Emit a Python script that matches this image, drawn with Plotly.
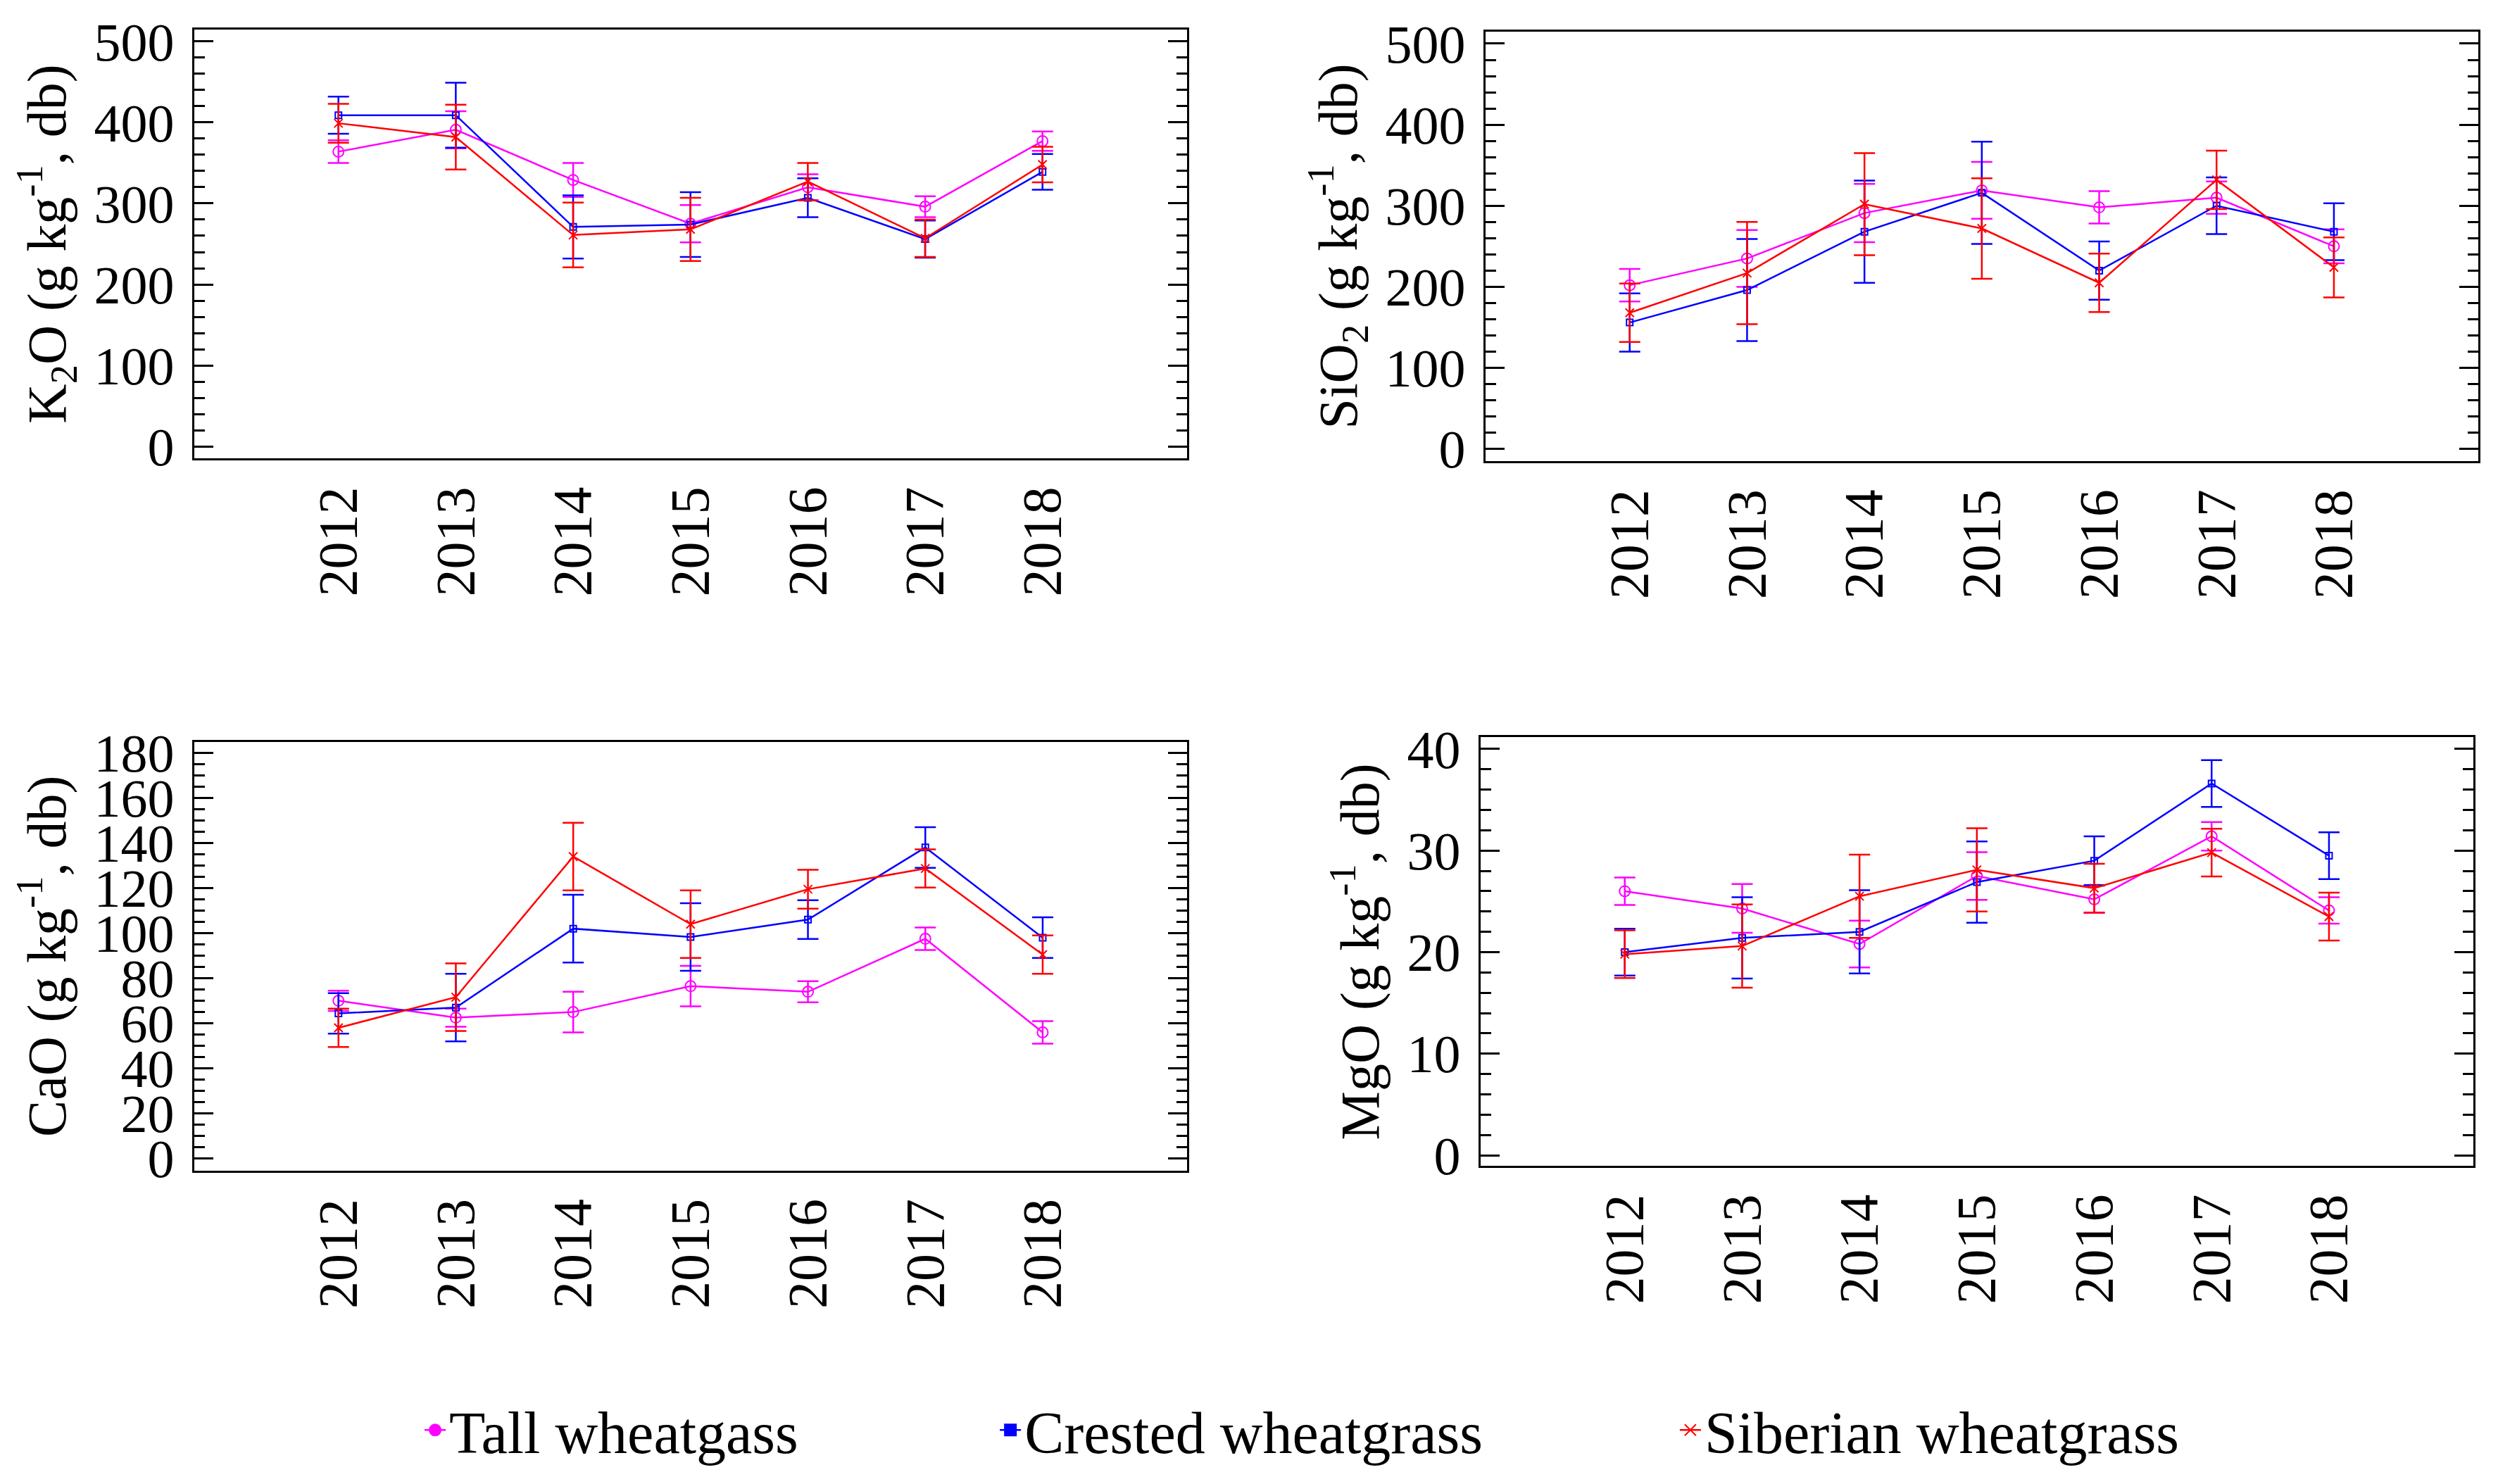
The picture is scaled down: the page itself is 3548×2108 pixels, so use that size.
import plotly.graph_objects as go

years = [2012, 2013, 2014, 2015, 2016, 2017, 2018]
year_labels = ["2012", "2013", "2014", "2015", "2016", "2017", "2018"]
series_names = ["Tall wheatgass", "Crested wheatgrass", "Siberian wheatgrass"]

# K2O (g kg-1, db)
k2o_tall = [364, 391, 329, 275, 320, 296, 377]
k2o_tall_err = [14, 23, 21, 23, 16, 13, 12]
k2o_crested = [409, 409, 271, 274, 307, 256, 339]
k2o_crested_err = [23, 40, 39, 40, 24, 23, 22]
k2o_siberian = [399, 382, 261, 268, 327, 257, 348]
k2o_siberian_err = [24, 40, 40, 39, 23, 23, 22]

# SiO2 (g kg-1, db)
sio2_tall = [202, 235, 291, 319, 298, 310, 250]
sio2_tall_err = [20, 35, 36, 35, 20, 20, 21]
sio2_crested = [156, 196, 268, 316, 220, 300, 268]
sio2_crested_err = [36, 63, 63, 63, 36, 35, 35]
sio2_siberian = [168, 217, 302, 272, 205, 332, 224]
sio2_siberian_err = [36, 63, 63, 62, 36, 36, 37]

# CaO (g kg-1, db)
cao_tall = [70, 62.5, 65, 76.5, 74, 97.5, 56]
cao_tall_err = [4.5, 4, 9, 9, 4.7, 5, 5]
cao_crested = [64.4, 67, 102, 98.3, 106, 138, 98]
cao_crested_err = [9, 15, 15, 15, 8.6, 9, 9]
cao_siberian = [58, 71.6, 134, 104, 119.5, 128.7, 90.5]
cao_siberian_err = [8.5, 15, 15, 15, 8.6, 8.5, 8.5]

# MgO (g kg-1, db)
mgo_tall = [26.0, 24.3, 20.8, 27.5, 25.2, 31.4, 24.1]
mgo_tall_err = [1.35, 2.4, 2.3, 2.35, 1.33, 1.4, 1.3]
mgo_crested = [20.0, 21.4, 22.0, 26.9, 29.0, 36.6, 29.5]
mgo_crested_err = [2.3, 4.0, 4.1, 4.0, 2.4, 2.3, 2.3]
mgo_siberian = [19.8, 20.6, 25.5, 28.1, 26.3, 29.8, 23.5]
mgo_siberian_err = [2.35, 4.1, 4.1, 4.1, 2.4, 2.35, 2.35]

colors = ["#FF00FF", "#0000FF", "#FF0000"]
symbols = ["circle-open", "square-open", "x-thin-open"]
msizes = [15, 9, 12]

FONT = "Liberation Serif"

panels = [
    dict(data=[(k2o_tall, k2o_tall_err), (k2o_crested, k2o_crested_err), (k2o_siberian, k2o_siberian_err)],
         title="K<sub>2</sub>O (g kg<sup>-1</sup>, db)", yrange=[-15, 515], dtick=100, minor=20,
         xdom=[0.07545, 0.47286], ydom=[0.69483, 0.98401]),
    dict(data=[(sio2_tall, sio2_tall_err), (sio2_crested, sio2_crested_err), (sio2_siberian, sio2_siberian_err)],
         title="SiO<sub>2</sub> (g kg<sup>-1</sup>, db)", yrange=[-15, 515], dtick=100, minor=20,
         xdom=[0.59236, 0.98985], ydom=[0.69307, 0.98259]),
    dict(data=[(cao_tall, cao_tall_err), (cao_crested, cao_crested_err), (cao_siberian, cao_siberian_err)],
         title="CaO (g kg<sup>-1</sup>, db)", yrange=[-5.3, 184.9], dtick=20, minor=5,
         xdom=[0.07545, 0.47294], ydom=[0.21504, 0.50394]),
    dict(data=[(mgo_tall, mgo_tall_err), (mgo_crested, mgo_crested_err), (mgo_siberian, mgo_siberian_err)],
         title="MgO (g kg<sup>-1</sup>, db)", yrange=[-1.05, 41.15], dtick=10, minor=2,
         xdom=[0.59039, 0.98788], ydom=[0.21807, 0.50697]),
]

fig = go.Figure()
layout = {}
for i, p in enumerate(panels):
    n = i + 1
    xa = "x" if n == 1 else f"x{n}"
    ya = "y" if n == 1 else f"y{n}"
    for j, (vals, errs) in enumerate(p["data"]):
        fig.add_trace(go.Scatter(
            x=years, y=vals, xaxis=xa, yaxis=ya, mode="lines+markers",
            name=series_names[j], showlegend=False,
            line=dict(color=colors[j], width=2.5),
            marker=dict(symbol=symbols[j], size=msizes[j], color=colors[j],
                        line=dict(color=colors[j], width=2)),
            error_y=dict(type="data", array=errs, visible=True, color=colors[j],
                         thickness=2.5, width=15),
        ))
    layout["xaxis" if n == 1 else f"xaxis{n}"] = dict(
        domain=p["xdom"], anchor=ya, range=[2010.77, 2019.23],
        tickmode="array", tickvals=years, ticktext=year_labels, tickangle=-90,
        ticks="", showline=True, linewidth=3, linecolor="black", mirror=True,
        showgrid=False, zeroline=False, automargin=False, ticklabelstandoff=6,
        tickfont=dict(family=FONT, size=78, color="black"),
    )
    layout["yaxis" if n == 1 else f"yaxis{n}"] = dict(
        domain=p["ydom"], anchor=xa, range=p["yrange"],
        tickmode="linear", tick0=0, dtick=p["dtick"],
        ticks="inside", ticklen=27, tickwidth=2.5, tickcolor="black",
        minor=dict(tick0=0, dtick=p["minor"], ticks="inside", ticklen=15,
                   tickwidth=2.5, tickcolor="black", showgrid=False),
        showline=True, linewidth=3, linecolor="black", mirror="ticks",
        showgrid=False, zeroline=False, automargin=False, ticklabelstandoff=10,
        tickfont=dict(family=FONT, size=76, color="black"),
        title=dict(text=p["title"], font=dict(family=FONT, size=78, color="black"),
                   standoff=15),
    )

# legend entries (filled symbols as in the reference legend), one legend box each
leg_symbols = ["circle", "square", "x-thin"]
leg_sizes = [30, 24, 22]
leg_ids = ["legend", "legend2", "legend3"]
leg_x = [0.1663, 0.3966, 0.6688]
for j in range(3):
    fig.add_trace(go.Scatter(
        x=[None], y=[None], mode="lines+markers", name=series_names[j],
        line=dict(color=colors[j], width=2.5),
        marker=dict(symbol=leg_symbols[j], size=leg_sizes[j], color=colors[j],
                    line=dict(color=colors[j], width=2)),
        showlegend=True, legend=leg_ids[j],
    ))
    layout[leg_ids[j]] = dict(
        orientation="h", x=leg_x[j], xanchor="left", y=0.04, yanchor="middle",
        font=dict(family=FONT, size=84, color="black"),
        itemsizing="trace", bgcolor="rgba(0,0,0,0)",
    )

fig.update_layout(
    **layout,
    width=3548, height=2108,
    margin=dict(l=0, r=0, t=0, b=0),
    paper_bgcolor="white", plot_bgcolor="white",
    font=dict(family=FONT, color="black"),
    showlegend=True,
)

fig.write_html("out.html")
